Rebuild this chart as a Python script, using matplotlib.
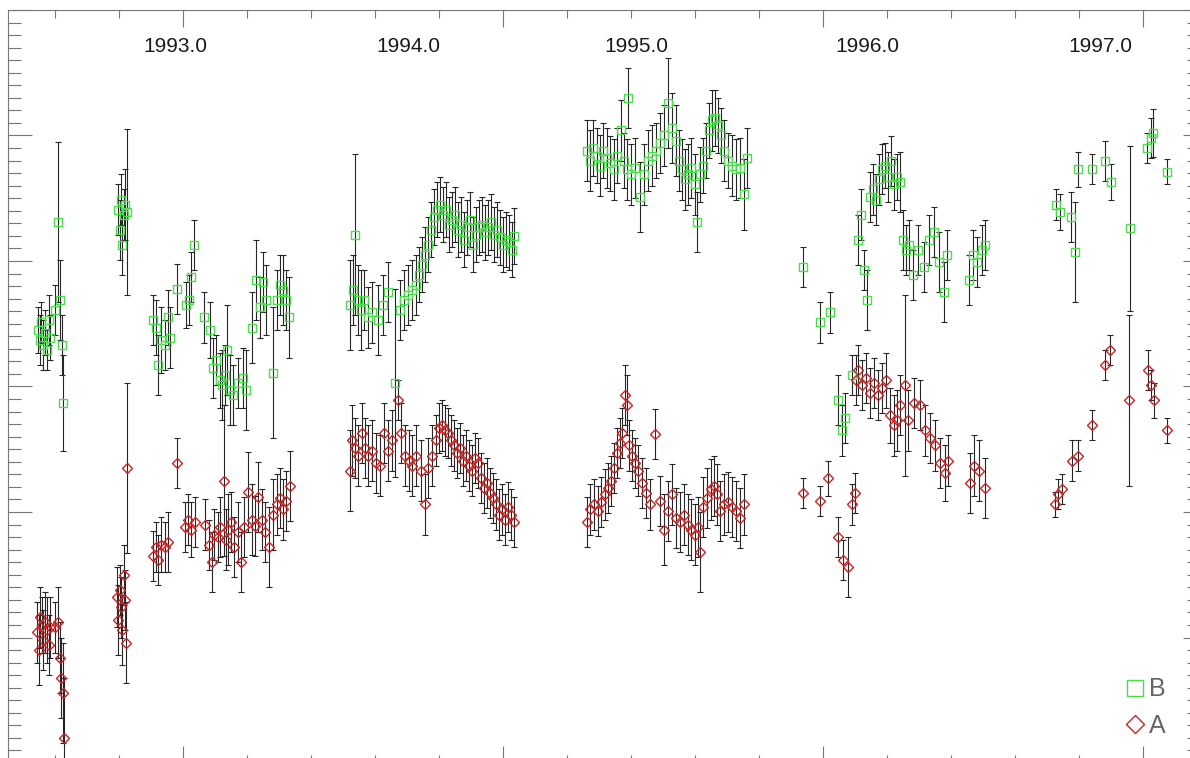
import matplotlib
matplotlib.use('Agg')
import matplotlib.pyplot as plt
from matplotlib.lines import Line2D
from matplotlib.ticker import MultipleLocator
import matplotlib.transforms as mtransforms

# time in JD - 2440000, magnitudes (axis inverted)
B_T = [8773, 8777, 8778, 8781, 8784, 8788, 8791, 8792, 8800, 8805, 8808, 8811, 8813,
       8898, 8902, 8903, 8905, 8908, 8909, 8913,
       8953, 8958, 8961, 8966, 8972, 8977, 8980, 8991, 9005, 9009, 9013, 9017, 9033, 9042,
       9047, 9052, 9058, 9061, 9066, 9069, 9073, 9078, 9086, 9094, 9098, 9108, 9114, 9120,
       9125, 9130, 9141, 9147, 9152, 9156, 9161, 9166,
       9261, 9266, 9269, 9273, 9278, 9283, 9289, 9295, 9305, 9313, 9320, 9331, 9339, 9345,
       9352, 9358, 9364, 9369, 9373, 9378, 9383, 9388, 9392, 9397, 9402, 9406, 9411, 9416,
       9420, 9425, 9430, 9434, 9439, 9444, 9448, 9453, 9458, 9463, 9467, 9472, 9477, 9481,
       9486, 9491, 9495, 9500, 9505, 9509, 9514, 9517,
       9631, 9636, 9641, 9647, 9652, 9656, 9663, 9667, 9673, 9678, 9684, 9689, 9694, 9695,
       9700, 9706, 9714, 9720, 9727, 9733, 9739, 9745, 9752, 9758, 9764, 9770, 9775, 9780,
       9784, 9789, 9794, 9800, 9803, 9808, 9813, 9817, 9822, 9827, 9831, 9836, 9841, 9845,
       9852, 9858, 9864, 9870, 9877, 9881,
       9969, 9995, 10011, 10023, 10030, 10034, 10045, 10055, 10059, 10064, 10069, 10073,
       10078, 10083, 10088, 10092, 10097, 10102, 10106, 10111, 10116, 10120, 10125, 10130,
       10134, 10141, 10148, 10158, 10166, 10173, 10181, 10189, 10194, 10228, 10234, 10241,
       10248, 10253,
       10364, 10370, 10388, 10394, 10398, 10420, 10441, 10450, 10480, 10506, 10513, 10516,
       10538]
B_MAG = [17.055, 17.063, 17.049, 17.067, 17.057, 17.071, 17.047, 17.061, 17.039, 16.969,
         17.031, 17.067, 17.113,
         16.959, 16.975, 16.951, 16.987, 16.963, 16.955, 16.961,
         17.047, 17.053, 17.083, 17.063, 17.067, 17.045, 17.061, 17.022, 17.035, 17.031,
         17.013, 16.987, 17.045, 17.055, 17.085, 17.079, 17.095, 17.099, 17.091, 17.071,
         17.103, 17.107, 17.097, 17.093, 17.103, 17.053, 17.015, 17.037, 17.017, 17.031,
         17.089, 17.031, 17.019, 17.023, 17.031, 17.045,
         17.035, 17.023, 16.979, 17.031, 17.039, 17.031, 17.045, 17.041, 17.047, 17.035,
         17.025, 17.097, 17.039, 17.031, 17.027, 17.023, 17.019, 17.011, 17.003, 16.995,
         16.987, 16.975, 16.965, 16.959, 16.955, 16.963, 16.959, 16.971, 16.967, 16.963,
         16.975, 16.971, 16.983, 16.973, 16.967, 16.987, 16.979, 16.973, 16.971, 16.977,
         16.973, 16.969, 16.979, 16.975, 16.981, 16.987, 16.983, 16.985, 16.991, 16.980,
         16.912, 16.920, 16.910, 16.916, 16.924, 16.912, 16.918, 16.922, 16.927, 16.916,
         16.896, 16.920, 16.927, 16.870, 16.931, 16.926, 16.949, 16.931, 16.920, 16.916,
         16.912, 16.906, 16.900, 16.874, 16.894, 16.904, 16.920, 16.927, 16.935, 16.931,
         16.926, 16.939, 16.969, 16.931, 16.924, 16.912, 16.896, 16.888, 16.886, 16.892,
         16.900, 16.912, 16.920, 16.924, 16.927, 16.926, 16.947, 16.918,
         17.005, 17.049, 17.041, 17.111, 17.135, 17.125, 17.091, 16.983, 16.963, 17.007,
         17.031, 16.949, 16.943, 16.951, 16.935, 16.927, 16.924, 16.933, 16.920, 16.939,
         16.933, 16.937, 16.983, 16.991, 16.987, 17.011, 16.991, 17.005, 16.983, 16.977,
         17.001, 17.025, 16.995, 17.015, 16.995, 17.001, 16.991, 16.987,
         16.955, 16.961, 16.965, 16.993, 16.927, 16.927, 16.920, 16.937, 16.974, 16.910,
         16.902, 16.898, 16.929]
B_ERR = [0.018, 0.020, 0.016, 0.020, 0.018, 0.016, 0.020, 0.018, 0.020, 0.064, 0.032, 0.024,
         0.038,
         0.020, 0.024, 0.020, 0.024, 0.020, 0.028, 0.066,
         0.020, 0.022, 0.024, 0.026, 0.020, 0.022, 0.024, 0.020, 0.018, 0.020, 0.020, 0.020,
         0.020, 0.022, 0.024, 0.020, 0.022, 0.028, 0.024, 0.036, 0.028, 0.024, 0.020, 0.024,
         0.032, 0.028, 0.032, 0.024, 0.024, 0.028, 0.052, 0.024, 0.024, 0.028, 0.024, 0.032,
         0.036, 0.028, 0.064, 0.028, 0.032, 0.024, 0.024, 0.024, 0.028, 0.024, 0.024, 0.075,
         0.024, 0.024, 0.024, 0.024, 0.024, 0.022, 0.022, 0.022, 0.022, 0.022, 0.022, 0.022,
         0.022, 0.022, 0.022, 0.022, 0.022, 0.022, 0.022, 0.022, 0.022, 0.022, 0.022, 0.022,
         0.022, 0.022, 0.022, 0.022, 0.022, 0.022, 0.022, 0.022, 0.022, 0.022, 0.022, 0.022,
         0.022, 0.022,
         0.024, 0.024, 0.022, 0.022, 0.024, 0.022, 0.024, 0.022, 0.024, 0.022, 0.024, 0.022,
         0.024, 0.024, 0.024, 0.024, 0.028, 0.024, 0.024, 0.024, 0.022, 0.024, 0.024, 0.036,
         0.028, 0.028, 0.024, 0.024, 0.024, 0.024, 0.024, 0.024, 0.024, 0.022, 0.022, 0.022,
         0.022, 0.024, 0.022, 0.022, 0.022, 0.024, 0.022, 0.024, 0.024, 0.024, 0.028, 0.024,
         0.016, 0.016, 0.016, 0.020, 0.020, 0.020, 0.016, 0.020, 0.020, 0.016, 0.024, 0.020,
         0.020, 0.020, 0.020, 0.020, 0.018, 0.020, 0.020, 0.020, 0.018, 0.024, 0.024, 0.020,
         0.020, 0.020, 0.020, 0.020, 0.020, 0.020, 0.024, 0.024, 0.020, 0.020, 0.020, 0.020,
         0.020, 0.020,
         0.012, 0.014, 0.020, 0.040, 0.014, 0.012, 0.016, 0.014, 0.066, 0.012, 0.016, 0.019,
         0.010]

A_T = [8772, 8775, 8777, 8780, 8781, 8784, 8788, 8791, 8792, 8800, 8805, 8808, 8809, 8813,
       8814,
       8897, 8898, 8902, 8903, 8905, 8908, 8909, 8911, 8913,
       8953, 8958, 8961, 8966, 8972, 8977, 8991, 9003, 9008, 9013, 9019, 9034, 9041, 9045,
       9048, 9055, 9058, 9064, 9067, 9070, 9075, 9080, 9086, 9091, 9095, 9102, 9108, 9113,
       9117, 9123, 9128, 9134, 9141, 9147, 9152, 9156, 9161, 9167,
       9261, 9264, 9269, 9273, 9280, 9284, 9289, 9295, 9302, 9308, 9314, 9320, 9327, 9336,
       9341, 9347, 9353, 9358, 9364, 9372, 9378, 9383, 9389, 9395, 9400, 9405, 9409, 9414,
       9419, 9423, 9428, 9433, 9438, 9442, 9447, 9452, 9456, 9461, 9466, 9470, 9475, 9480,
       9484, 9489, 9494, 9498, 9503, 9508, 9513, 9517,
       9631, 9636, 9642, 9648, 9653, 9659, 9664, 9669, 9673, 9678, 9683, 9686, 9691, 9694,
       9697, 9702, 9706, 9711, 9717, 9723, 9730, 9738, 9745, 9752, 9758, 9764, 9770, 9777,
       9783, 9789, 9794, 9800, 9805, 9808, 9813, 9819, 9825, 9830, 9834, 9839, 9845, 9852,
       9858, 9864, 9870, 9877,
       9969, 9995, 10008, 10023, 10031, 10039, 10045, 10050, 10052, 10055, 10061, 10067,
       10073, 10080, 10086, 10092, 10098, 10105, 10111, 10116, 10120, 10128, 10133, 10142,
       10152, 10159, 10167, 10175, 10183, 10191, 10195, 10230, 10236, 10244, 10253,
       10363, 10367, 10373, 10389, 10398, 10420, 10441, 10448, 10478, 10508, 10513, 10517,
       10538]
A_MAG = [17.296, 17.310, 17.284, 17.290, 17.302, 17.288, 17.294, 17.306, 17.292, 17.292,
         17.288, 17.316, 17.332, 17.344, 17.380,
         17.268, 17.286, 17.262, 17.276, 17.294, 17.250, 17.270, 17.304, 17.165,
         17.235, 17.228, 17.238, 17.226, 17.228, 17.224, 17.161, 17.212, 17.206, 17.214,
         17.208, 17.210, 17.226, 17.240, 17.218, 17.220, 17.212, 17.175, 17.222, 17.214,
         17.208, 17.228, 17.216, 17.240, 17.212, 17.184, 17.206, 17.211, 17.188, 17.206,
         17.216, 17.228, 17.202, 17.194, 17.189, 17.198, 17.191, 17.179,
         17.167, 17.143, 17.149, 17.155, 17.137, 17.149, 17.155, 17.151, 17.161, 17.163,
         17.137, 17.151, 17.143, 17.111, 17.137, 17.155, 17.159, 17.163, 17.155, 17.167,
         17.194, 17.165, 17.155, 17.143, 17.133, 17.131, 17.135, 17.137, 17.143, 17.147,
         17.153, 17.149, 17.159, 17.155, 17.163, 17.167, 17.157, 17.161, 17.173, 17.181,
         17.177, 17.185, 17.189, 17.194, 17.202, 17.198, 17.206, 17.196, 17.202, 17.208,
         17.208, 17.198, 17.194, 17.199, 17.192, 17.186, 17.181, 17.175, 17.165, 17.153,
         17.145, 17.137, 17.107, 17.115, 17.147, 17.155, 17.161, 17.167, 17.177, 17.185,
         17.194, 17.138, 17.191, 17.214, 17.199, 17.186, 17.205, 17.208, 17.202, 17.210,
         17.214, 17.218, 17.212, 17.232, 17.196, 17.189, 17.182, 17.179, 17.186, 17.199,
         17.194, 17.192, 17.196, 17.199, 17.205, 17.194,
         17.185, 17.191, 17.173, 17.220, 17.238, 17.244, 17.194, 17.185, 17.095, 17.087,
         17.099, 17.093, 17.105, 17.097, 17.107, 17.101, 17.095, 17.123, 17.131, 17.127,
         17.115, 17.099, 17.127, 17.113, 17.115, 17.135, 17.141, 17.147, 17.161, 17.169,
         17.159, 17.177, 17.163, 17.167, 17.181,
         17.194, 17.186, 17.182, 17.159, 17.155, 17.131, 17.083, 17.071, 17.111, 17.087,
         17.099, 17.111, 17.135]
A_ERR = [0.024, 0.028, 0.024, 0.022, 0.024, 0.024, 0.026, 0.024, 0.024, 0.020, 0.028, 0.028,
         0.032, 0.040, 0.048,
         0.024, 0.028, 0.020, 0.024, 0.028, 0.024, 0.024, 0.032, 0.068,
         0.020, 0.020, 0.020, 0.022, 0.020, 0.024, 0.020, 0.020, 0.020, 0.022, 0.020, 0.020,
         0.020, 0.024, 0.020, 0.020, 0.024, 0.060, 0.024, 0.028, 0.024, 0.024, 0.024, 0.024,
         0.024, 0.032, 0.028, 0.024, 0.028, 0.024, 0.024, 0.032, 0.028, 0.024, 0.024, 0.024,
         0.024, 0.028,
         0.032, 0.028, 0.024, 0.024, 0.024, 0.024, 0.024, 0.024, 0.024, 0.024, 0.024, 0.024,
         0.024, 0.016, 0.024, 0.024, 0.024, 0.024, 0.024, 0.024, 0.024, 0.024, 0.024, 0.020,
         0.020, 0.020, 0.020, 0.020, 0.020, 0.020, 0.020, 0.020, 0.020, 0.020, 0.020, 0.020,
         0.020, 0.020, 0.020, 0.020, 0.020, 0.020, 0.020, 0.020, 0.020, 0.020, 0.020, 0.020,
         0.020, 0.020,
         0.020, 0.020, 0.020, 0.020, 0.020, 0.020, 0.020, 0.020, 0.020, 0.020, 0.020, 0.020,
         0.024, 0.024, 0.020, 0.020, 0.020, 0.020, 0.020, 0.020, 0.020, 0.020, 0.020, 0.028,
         0.024, 0.024, 0.024, 0.024, 0.024, 0.024, 0.024, 0.024, 0.024, 0.032, 0.024, 0.024,
         0.024, 0.024, 0.024, 0.024, 0.024, 0.024, 0.024, 0.024, 0.024, 0.024,
         0.012, 0.012, 0.014, 0.016, 0.016, 0.024, 0.016, 0.016, 0.020, 0.020, 0.020, 0.020,
         0.020, 0.020, 0.020, 0.020, 0.022, 0.022, 0.024, 0.024, 0.024, 0.072, 0.024, 0.020,
         0.020, 0.020, 0.020, 0.020, 0.020, 0.022, 0.020, 0.024, 0.024, 0.024, 0.024,
         0.010, 0.012, 0.012, 0.016, 0.012, 0.012, 0.012, 0.012, 0.068, 0.016, 0.012, 0.014,
         0.010]

YEAR_LABELS = ['1993.0', '1994.0', '1995.0', '1996.0', '1997.0']
YEAR_POS = [8988, 9352, 9708, 10070, 10433]

GREEN = '#4ddc4d'
RED = '#cc2222'
BAR = '#262626'
AXC = '#777777'

fig = plt.figure(figsize=(11.9, 7.58), dpi=100)
ax = fig.add_axes([8 / 1190, -5 / 758, 1183 / 1190, 753 / 758])

for t, m, e in ((A_T, A_MAG, A_ERR), (B_T, B_MAG, B_ERR)):
    ax.errorbar(t, m, yerr=e, fmt='none', ecolor=BAR, elinewidth=0.8,
                capsize=2.3, capthick=0.8, zorder=2)

ax.plot(B_T, B_MAG, ls='none', marker='s', ms=6.0, mfc='none', mec=GREEN,
        mew=1.0, zorder=3)
ax.plot(A_T, A_MAG, ls='none', marker='D', ms=4.6, mfc='none', mec=RED,
        mew=1.0, zorder=3)

ax.set_xlim(8726.6, 10575.0)
ax.set_ylim(17.40, 16.80)

ax.xaxis.set_major_locator(MultipleLocator(500))
ax.xaxis.set_minor_locator(MultipleLocator(100))
ax.yaxis.set_major_locator(MultipleLocator(0.1))
ax.yaxis.set_minor_locator(MultipleLocator(0.01))
ax.tick_params(axis='x', which='both', direction='in', top=True, bottom=True,
               labeltop=False, labelbottom=False, color=AXC, width=0.8)
ax.tick_params(axis='x', which='major', length=12)
ax.tick_params(axis='x', which='minor', length=6)
ax.tick_params(axis='y', which='both', direction='in', left=True, right=False,
               labelleft=False, color=AXC, width=0.8)
ax.tick_params(axis='y', which='major', length=17)
ax.tick_params(axis='y', which='minor', length=9)
for side in ('left', 'top'):
    ax.spines[side].set_color(AXC)
    ax.spines[side].set_linewidth(0.8)
ax.spines['right'].set_visible(False)
ax.spines['bottom'].set_visible(False)

# shorter ticks on the right side
axr = ax.twinx()
axr.set_ylim(17.40, 16.80)
axr.yaxis.set_major_locator(MultipleLocator(0.1))
axr.yaxis.set_minor_locator(MultipleLocator(0.01))
axr.tick_params(axis='y', which='both', direction='in', labelright=False,
                color=AXC, width=0.8)
axr.tick_params(axis='y', which='major', length=6)
axr.tick_params(axis='y', which='minor', length=3)
for s in axr.spines.values():
    s.set_visible(False)

trans = mtransforms.blended_transform_factory(ax.transData, ax.transAxes)
for lab, pos in zip(YEAR_LABELS, YEAR_POS):
    ax.text(pos, 0.951, lab, transform=trans, ha='center', va='center',
            fontsize=15, family='Liberation Sans', color='#1a1a1a')

handles = [Line2D([], [], ls='none', marker='s', ms=11, mfc='none', mec=GREEN, mew=1.0),
           Line2D([], [], ls='none', marker='D', ms=9, mfc='none', mec=RED, mew=1.0)]
ax.legend(handles, ['B', 'A'], loc='lower right', bbox_to_anchor=(0.993, 0.01),
          frameon=False, handlelength=0.8, handletextpad=0.15, labelspacing=0.5,
          borderaxespad=0.3, prop={'family': 'Liberation Sans', 'size': 18},
          labelcolor='#666666')

fig.savefig('out.png', dpi=100)
